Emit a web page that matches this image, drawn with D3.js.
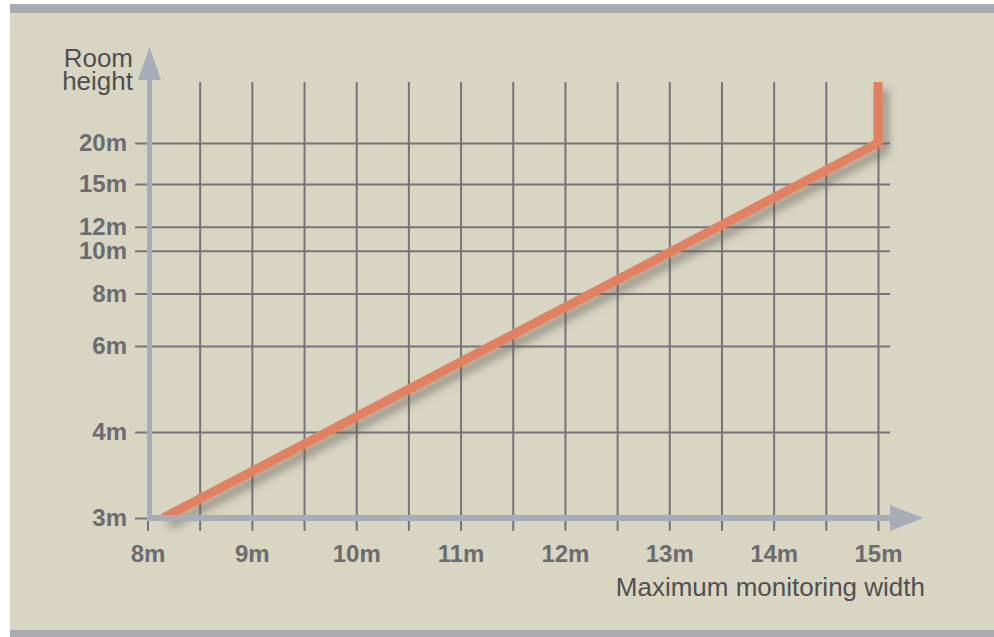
<!DOCTYPE html>
<html>
<head>
<meta charset="utf-8">
<script src="https://cdn.jsdelivr.net/npm/d3@7"></script>
<style>
  html, body { margin: 0; padding: 0; background: #ffffff; }
  svg { display: block; }
</style>
</head>
<body>
<svg id="chart" width="994" height="637"></svg>
<script>
// Monitoring width ticks (metres) along the horizontal axis
const widthTicks = [8, 9, 10, 11, 12, 13, 14, 15];
// Vertical grid every half metre
const widthGrid = d3.range(8, 15.001, 0.5);
// Room height ticks (metres) along the vertical axis
const heightTicks = [3, 4, 6, 8, 10, 12, 15, 20];
// Maximum monitoring width reached at each room height
const widthAtHeight = [8.15, 9.72, 11.29, 12.25, 13.03, 13.47, 14.25, 15];
// Coverage curve: width / height pairs
const curveWidths = [8.15, 15];
const curveHeights = [3, 20];

const W = 994, H = 637;
const svg = d3.select("#chart");
const FONT = "Liberation Sans, Arial, sans-serif";

const plot = { left: 147.5, right: 878, bottom: 518, top: 143,
               gridTop: 82, gridBottom: 531, gridRight: 890, tickLeft: 135 };

const x = d3.scaleLinear().domain([8, 15]).range([plot.left, plot.right]);
const yByWidth = d3.scaleLinear()
  .domain([d3.min(widthAtHeight), d3.max(widthAtHeight)])
  .range([plot.bottom, plot.top]);
const y = d3.scaleLinear().domain(heightTicks).range(widthAtHeight.map(yByWidth));

// Panel background and frame bars
svg.append("rect").attr("x", 10).attr("y", 4).attr("width", W - 10).attr("height", H - 4).attr("fill", "#d9d5c3");
svg.append("rect").attr("x", 10).attr("y", 4).attr("width", W - 10).attr("height", 9).attr("fill", "#a9abb3");
svg.append("rect").attr("x", 10).attr("y", 630).attr("width", W - 10).attr("height", 7).attr("fill", "#a9abb3");

const defs = svg.append("defs");
const f = defs.append("filter").attr("id", "shadow")
  .attr("x", "-10%").attr("y", "-10%").attr("width", "130%").attr("height", "130%");
f.append("feDropShadow").attr("dx", 6).attr("dy", 7).attr("stdDeviation", 4)
  .attr("flood-color", "#5e5c52").attr("flood-opacity", 0.55);

// Vertical grid lines
const gx = svg.append("g")
  .attr("transform", `translate(0,${plot.gridBottom})`)
  .call(d3.axisBottom(x).tickValues(widthGrid).tickFormat("")
    .tickSize(-(plot.gridBottom - plot.gridTop)).tickSizeOuter(0));
gx.select(".domain").remove();
gx.selectAll(".tick line").attr("stroke", "#76747a").attr("stroke-width", 2);

// Horizontal grid lines
const gy = svg.append("g")
  .attr("transform", `translate(${plot.tickLeft},0)`)
  .call(d3.axisLeft(y).tickValues(heightTicks).tickFormat("")
    .tickSize(-(plot.gridRight - plot.tickLeft)).tickSizeOuter(0));
gy.select(".domain").remove();
gy.selectAll(".tick line").attr("stroke", "#76747a").attr("stroke-width", 2);

// Coverage curve: straight rise, then vertical beyond 20 m
const pts = curveWidths.map((w, i) => [x(w), y(curveHeights[i])]);
pts.push([x(curveWidths[curveWidths.length - 1]), plot.gridTop]);
svg.append("path")
  .attr("d", d3.line()(pts))
  .attr("fill", "none")
  .attr("stroke", "#e2805f")
  .attr("stroke-width", 9)
  .attr("stroke-linejoin", "miter")
  .attr("filter", "url(#shadow)");

// Axes with arrow heads
const axisColor = "#a8abb8";
svg.append("line").attr("x1", x(8)).attr("x2", 892).attr("y1", y(3)).attr("y2", y(3))
  .attr("stroke", axisColor).attr("stroke-width", 6);
svg.append("path").attr("d", `M890,${y(3) - 13}L923,${y(3)}L890,${y(3) + 13}Z`).attr("fill", axisColor);
svg.append("line").attr("x1", 149.5).attr("x2", 149.5).attr("y1", y(3) + 3).attr("y2", 78)
  .attr("stroke", axisColor).attr("stroke-width", 5);
svg.append("path").attr("d", `M138,80L149.5,47L161,80Z`).attr("fill", axisColor);

// Tick labels
const xl = svg.append("g")
  .attr("transform", `translate(0,${plot.bottom})`)
  .call(d3.axisBottom(x).tickValues(widthTicks).tickFormat(d => d + "m").tickSize(0).tickPadding(27));
xl.select(".domain").remove();
xl.selectAll("text")
  .attr("fill", "#6c6c70").attr("font-family", FONT)
  .attr("font-size", 24).attr("font-weight", "bold");

const yl = svg.append("g")
  .attr("transform", `translate(${plot.tickLeft},0)`)
  .call(d3.axisLeft(y).tickValues(heightTicks).tickFormat(d => d + "m").tickSize(0).tickPadding(8));
yl.select(".domain").remove();
yl.selectAll("text")
  .attr("fill", "#6c6c70").attr("font-family", FONT)
  .attr("font-size", 24).attr("font-weight", "bold");

// Axis titles
const title = svg.append("g").attr("font-family", FONT)
  .attr("fill", "#505050").attr("font-size", 26);
title.append("text").attr("x", 133).attr("y", 67).attr("text-anchor", "end").text("Room");
title.append("text").attr("x", 133).attr("y", 90).attr("text-anchor", "end").text("height");
title.append("text").attr("x", 925).attr("y", 596).attr("text-anchor", "end").text("Maximum monitoring width");
</script>
</body>
</html>
